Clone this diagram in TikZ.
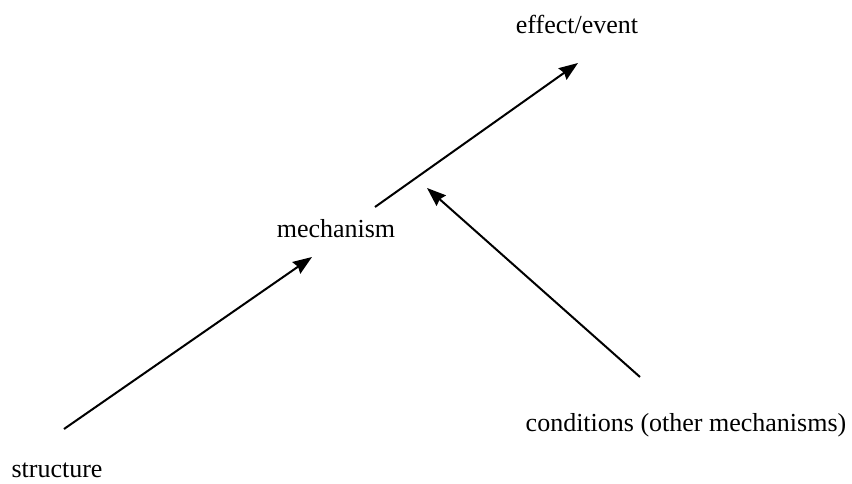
\documentclass[tikz,border=0pt]{standalone}
\usepackage{fontspec}
\setmainfont{Liberation Serif}
\usetikzlibrary{arrows.meta}
\begin{document}
\begin{tikzpicture}[x=1pt,y=-1pt,
  lbl/.style={anchor=base,inner sep=0pt,font=\fontsize{26}{30}\selectfont},
  conn/.style={line width=2pt,-{Stealth[length=19pt,width=14pt,inset=2pt]}}]
\useasboundingbox (0,0) rectangle (852,484);
\node[lbl] (effect) at (577,34) {effect/event};
\node[lbl] (mech) at (336,237) {mechanism};
\node[lbl] (struct) at (57,477) {structure};
\node[lbl] (cond) at (686,431) {conditions (other mechanisms)};
\coordinate (s0) at (64,429);
\coordinate (s1) at (312,257);
\coordinate (m0) at (375,207);
\coordinate (m1) at (578,63);
\coordinate (c0) at (640,377);
\coordinate (c1) at (427,188);
\draw[conn] (s0) -- (s1);
\draw[conn] (m0) -- (m1);
\draw[conn] (c0) -- (c1);
\end{tikzpicture}
\end{document}
